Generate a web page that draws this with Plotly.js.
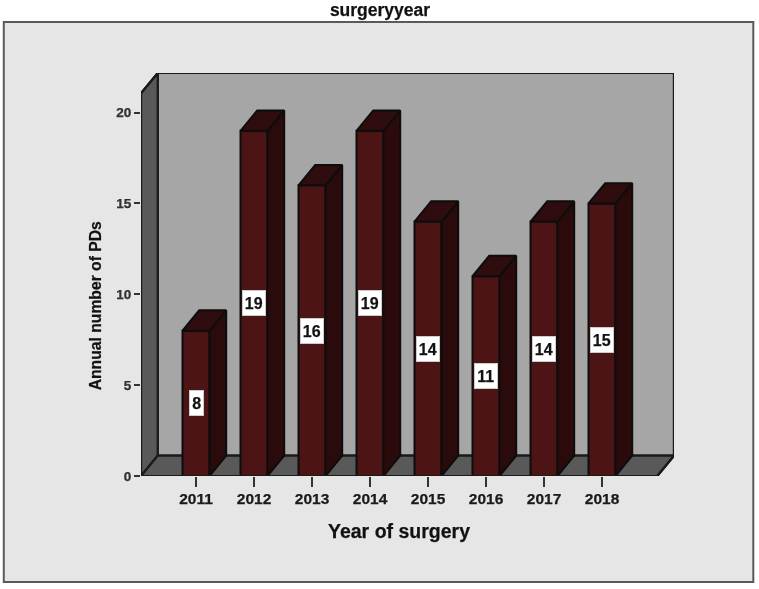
<!DOCTYPE html>
<html>
<head>
<meta charset="utf-8">
<script src="https://cdn.plot.ly/plotly-3.0.1.min.js"></script>
<style>
html,body{margin:0;padding:0;background:#fff;}
#chart{width:759px;height:589px;filter:blur(0.45px);}
#chart svg text{stroke:#1a1a1a;stroke-width:0.25px;}
</style>
</head>
<body>
<div id="chart"></div>
<script>
// Data
const years = [2011, 2012, 2013, 2014, 2015, 2016, 2017, 2018];
const pds = [8, 19, 16, 19, 14, 11, 14, 15];
const yTicks = [0, 5, 10, 15, 20];

// Chart text
const chartTitle = 'surgeryyear';
const xTitle = 'Year of surgery';
const yTitle = 'Annual number of PDs';

// Layout geometry (pixels)
const W = 759, H = 589;
const L = 140.7, R = 673.7, T = 73, B = 476;
const pxPerYear = 58, pxPerUnit = 18.17;
const depthPx = [16.7, 20.3];

// Pseudo-3D box in data units
const x0 = 2011 - 55 / pxPerYear;
const xEnd = x0 + (R - L) / pxPerYear;
const yEnd = (B - T) / pxPerUnit;
const dx = depthPx[0] / pxPerYear, dy = depthPx[1] / pxPerUnit;
const x1 = xEnd - dx, yTop = yEnd - dy;
const barW = 27 / pxPerYear;

// Colours
const cFront = '#4c1415', cSide = '#2a0a0b', cTop = '#2f0c0d', cEdge = '#0d0d0d';
const cBack = '#a6a6a6', cWall = '#595959', cFrame = '#e6e6e6';
const font = '"Liberation Sans", Arial, sans-serif';

const poly = pts => 'M' + pts.map(p => p[0] + ',' + p[1]).join('L') + 'Z';
const paperX = p => (p - L) / (R - L);
const paperY = p => (B - p) / (B - T);

function faces(build) {
  const xs = [], ys = [];
  years.forEach((yr, i) => {
    build(yr - barW / 2, yr + barW / 2, pds[i]).forEach(p => { xs.push(p[0]); ys.push(p[1]); });
    xs.push(null); ys.push(null);
  });
  return {xs, ys};
}
const sideFaces = faces((a, b, v) => [[b, 0], [b + dx, dy], [b + dx, v + dy], [b, v], [b, 0]]);
const topFaces = faces((a, b, v) => [[a, v], [a + dx, v + dy], [b + dx, v + dy], [b, v], [a, v]]);

const traces = [
  {type: 'bar', x: years, y: pds, width: barW, cliponaxis: false,
   marker: {color: cFront, line: {color: cEdge, width: 2}}, hoverinfo: 'x+y', showlegend: false},
  {type: 'scatter', mode: 'lines', x: sideFaces.xs, y: sideFaces.ys, fill: 'toself', fillcolor: cSide,
   line: {color: cEdge, width: 2}, hoverinfo: 'skip', cliponaxis: false, showlegend: false},
  {type: 'scatter', mode: 'lines', x: topFaces.xs, y: topFaces.ys, fill: 'toself', fillcolor: cTop,
   line: {color: cEdge, width: 2}, hoverinfo: 'skip', cliponaxis: false, showlegend: false},
  {type: 'scatter', mode: 'lines', hoverinfo: 'skip', cliponaxis: false, showlegend: false,
   x: [x0, x0, x0 + dx, x1 + dx, x1 + dx, x1, x0],
   y: [0, yTop, yTop + dy, yTop + dy, dy, 0, 0],
   line: {color: '#1a1a1a', width: 2.2}}
];

const shapes = [
  {type: 'rect', xref: 'paper', yref: 'paper', layer: 'below',
   x0: paperX(3.5), x1: paperX(753), y0: paperY(582), y1: paperY(22),
   fillcolor: cFrame, line: {color: '#5a5a5a', width: 2}},
  {type: 'path', xref: 'x', yref: 'y', layer: 'below', fillcolor: cBack, line: {color: '#1a1a1a', width: 2.2},
   path: poly([[x0 + dx, dy], [x1 + dx, dy], [x1 + dx, yTop + dy], [x0 + dx, yTop + dy]])},
  {type: 'path', xref: 'x', yref: 'y', layer: 'below', fillcolor: cWall, line: {color: '#1a1a1a', width: 2.2},
   path: poly([[x0, 0], [x0 + dx, dy], [x0 + dx, yTop + dy], [x0, yTop]])},
  {type: 'path', xref: 'x', yref: 'y', layer: 'below', fillcolor: cWall, line: {color: '#1a1a1a', width: 2.2},
   path: poly([[x0, 0], [x1, 0], [x1 + dx, dy], [x0 + dx, dy]])}
];

const valueLabels = years.map((yr, i) => ({
  x: yr, y: pds[i] / 2, xref: 'x', yref: 'y', text: '<b>' + pds[i] + '</b>', showarrow: false,
  font: {family: font, size: 16, color: '#111111'}, bgcolor: '#ffffff',
  bordercolor: '#cccccc', borderwidth: 1, borderpad: 0,
  width: String(pds[i]).length * 8.3 + 5, height: 24, align: 'center', valign: 'middle'
}));
const axisTitles = [
  {xref: 'paper', yref: 'paper', x: paperX(398.5), y: paperY(531), text: '<b>' + xTitle + '</b>', showarrow: false,
   xanchor: 'center', yanchor: 'middle', font: {family: font, size: 19.5, color: '#111111'}},
  {xref: 'paper', yref: 'paper', x: paperX(95), y: paperY(306), text: '<b>' + yTitle + '</b>', showarrow: false,
   textangle: -90, xanchor: 'center', yanchor: 'middle', font: {family: font, size: 15.7, color: '#111111'}}
];

const layout = {
  width: W, height: H,
  margin: {l: L, r: W - R, t: T, b: H - B, pad: 0},
  paper_bgcolor: '#ffffff', plot_bgcolor: 'rgba(0,0,0,0)',
  showlegend: false, bargap: 0,
  title: {text: '<b>' + chartTitle + '</b>', x: 380 / W, xref: 'container', xanchor: 'center',
          y: 1 - 9.5 / H, yref: 'container', yanchor: 'middle',
          font: {family: font, size: 17.5, color: '#111111'}},
  xaxis: {range: [x0, xEnd], tickmode: 'array', tickvals: years, ticktext: years.map(String),
          ticks: 'outside', ticklen: 10, tickwidth: 2, tickcolor: '#333333', ticklabelstandoff: -2,
          showgrid: false, zeroline: false, showline: false,
          tickfont: {family: font, size: 15.5, color: '#1a1a1a', weight: 'bold'}},
  yaxis: {range: [0, yEnd], tickmode: 'array', tickvals: yTicks, ticktext: yTicks.map(String),
          ticks: 'outside', ticklen: 6, tickwidth: 2, tickcolor: '#333333',
          showgrid: false, zeroline: false, showline: false,
          tickfont: {family: font, size: 13.5, color: '#333333', weight: 'bold'}},
  shapes: shapes,
  annotations: valueLabels.concat(axisTitles)
};

Plotly.newPlot('chart', traces, layout, {displayModeBar: false, staticPlot: true});
</script>
</body>
</html>
